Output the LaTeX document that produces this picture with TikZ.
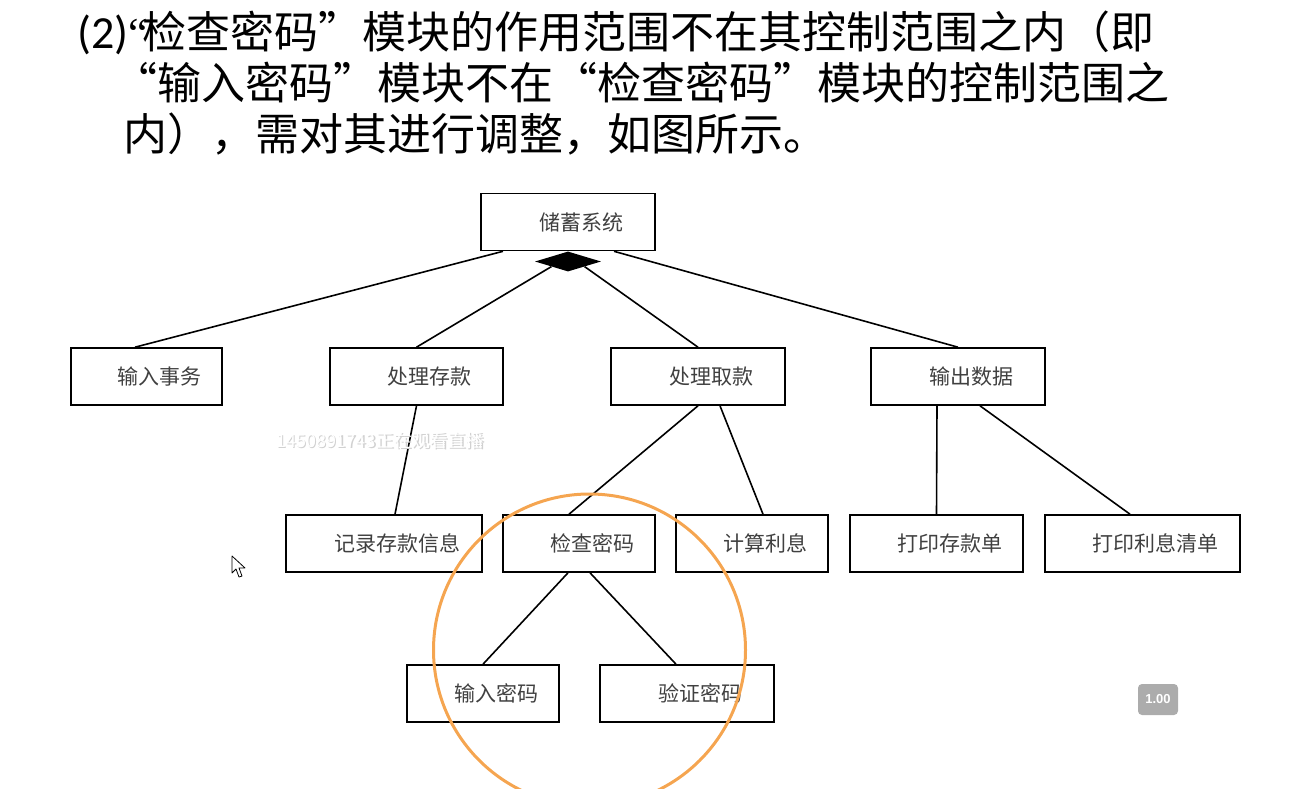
\documentclass[tikz,border=0pt]{standalone}
\usepackage{fontspec}
\setmainfont{Noto Sans CJK SC}
\newfontfamily\numfont{Carlito}
\newfontfamily\quotefont{Liberation Serif}
\newfontfamily\badgefont{Liberation Sans}
\usetikzlibrary{shapes.geometric}
\definecolor{ringorange}{RGB}{245,165,80}
\definecolor{badgegray}{RGB}{172,172,172}
\begin{document}
\begin{tikzpicture}[x=1pt,y=-1pt,
    mod/.style={draw, line width=1.6pt, minimum height=57pt, inner sep=0pt,
      font=\fontsize{21}{21}\selectfont, text=black!75,
      execute at begin node=\hspace*{26pt}},
    agg/.style={diamond, fill=black, minimum width=66pt, minimum height=20pt, inner sep=0pt},
    ttl/.style={anchor=base west, inner sep=0pt, font=\fontsize{44}{44}\selectfont},
    wmark/.style={font=\fontsize{18}{18}\selectfont}]
      \useasboundingbox (0,0) rectangle (1304,789);
      \path
        (77,49) node[ttl] (l1){{\numfont\fontsize{46}{46}\selectfont(2)}\hspace{0pt}{\quotefont “}\hspace{-5pt}检查密码”模块的作用范围不在其控制范围之内（即}
        (113,100) node[ttl] (l2){“输入密码”模块不在“检查密码”模块的控制范围之}
        (123,151) node[ttl] (l3){内），需对其进行调整，如图所示。};
      \draw
        (568,222) node[mod, minimum width=174pt] (sys){储蓄系统}
        (146.5,376.5) node[mod, minimum width=151pt] (tran){输入事务}
        (416.5,376.5) node[mod, minimum width=173pt] (dep){处理存款}
        (698,376.5) node[mod, minimum width=174pt] (wdr){处理取款}
        (958,376.5) node[mod, minimum width=174pt] (outp){输出数据}
        (384,543.5) node[mod, minimum width=196pt] (rec){记录存款信息}
        (579,543.5) node[mod, minimum width=152pt] (chk){检查密码}
        (752,543.5) node[mod, minimum width=152pt] (intr){计算利息}
        (936.5,543.5) node[mod, minimum width=173pt] (pdep){打印存款单}
        (1142.5,543.5) node[mod, minimum width=195pt] (pint){打印利息清单}
        (483,693.5) node[mod, minimum width=152pt] (inpw){输入密码}
        (687,693.5) node[mod, minimum width=174pt] (verp){验证密码};
      \path (sys.south) node[agg, anchor=north] (hub){};
      \begin{scope}[-, line width=1.6pt]
        \draw ([xshift=-65pt]sys.south) to ([xshift=-11.5pt]tran.north);
        \draw (hub.south west) to (dep.north);
        \draw (hub.south east) to (wdr.north);
        \draw ([xshift=46pt]sys.south) to (outp.north);
        \draw (dep.south) to ([xshift=11pt]rec.north);
        \draw (wdr.south) to ([xshift=-10pt]chk.north);
        \draw ([xshift=22pt]wdr.south) to ([xshift=11pt]intr.north);
        \draw ([xshift=-21pt]outp.south) to (pdep.north);
        \draw ([xshift=22pt]outp.south) to ([xshift=-12.5pt]pint.north);
        \draw ([xshift=-11pt]chk.south) to (inpw.north);
        \draw ([xshift=11pt]chk.south) to ([xshift=-11pt]verp.north);
      \end{scope}
      \draw[ringorange, line width=3pt] (589.5,650) circle[radius=156pt];
      \path
        (381.5,442) node[wmark, text=black!18] (wm0){1450891743正在观看直播}
        (380,440.5) node[wmark, text=white] (wm){1450891743正在观看直播};
      \node[fill=badgegray, rounded corners=4pt, minimum width=40pt, minimum height=31pt,
        inner sep=0pt, text=white, font=\badgefont\bfseries\fontsize{13}{13}\selectfont]
        (rate) at (1158,699.5) {1.00};
      \draw[fill=white, line width=0.8pt, line join=round]
        (232,556) -- (232,573) -- (236,569) -- (239,577) -- (242,576)
        -- (239,568) -- (245,568) -- cycle;
    \end{tikzpicture}
\end{document}
